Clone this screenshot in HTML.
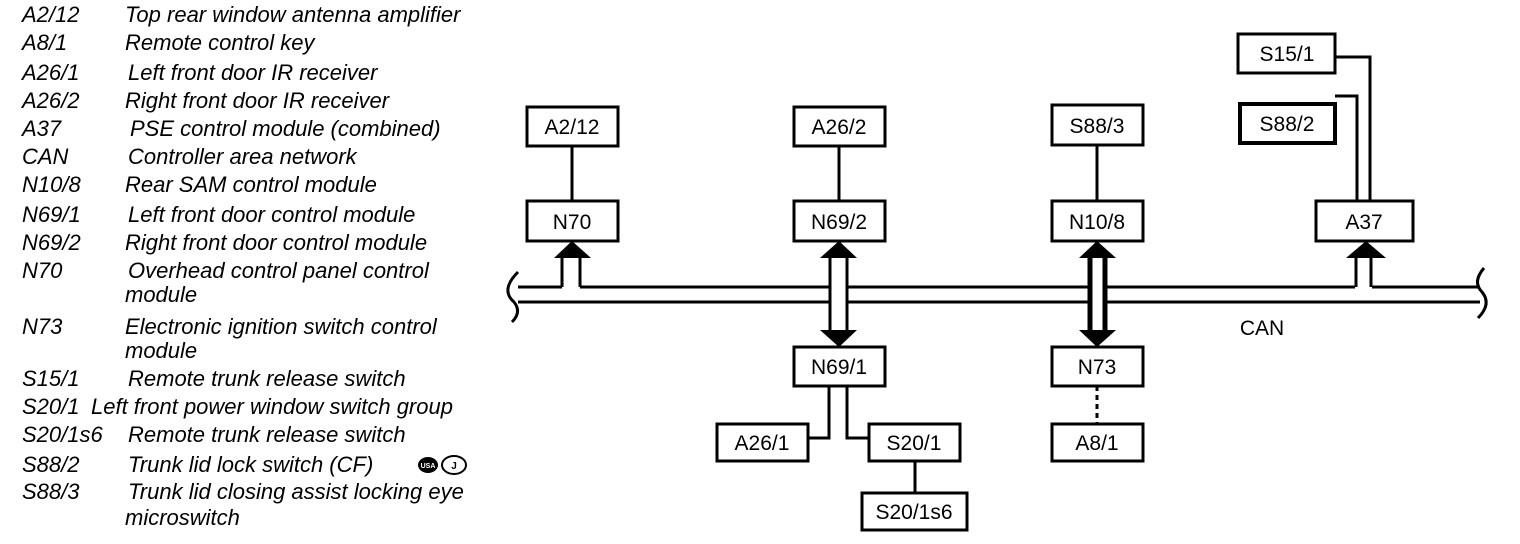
<!DOCTYPE html>
<html><head><style>body{margin:0;background:#fff}svg{display:block}
.t{font-family:"Liberation Sans",sans-serif;font-size:22px;font-style:italic;fill:#000}
.b{font-family:"Liberation Sans",sans-serif;font-size:21px;fill:#000;text-anchor:middle}
</style></head><body>
<svg width="1520" height="544" viewBox="0 0 1520 544" xmlns="http://www.w3.org/2000/svg">
<g class="t">
<text x="22" y="22">A2/12</text><text x="125" y="22">Top rear window antenna amplifier</text>
<text x="22" y="50">A8/1</text><text x="125" y="50">Remote control key</text>
<text x="22" y="80">A26/1</text><text x="128" y="80">Left front door IR receiver</text>
<text x="22" y="108">A26/2</text><text x="125" y="108">Right front door IR receiver</text>
<text x="22" y="136">A37</text><text x="130" y="136">PSE control module (combined)</text>
<text x="22" y="164">CAN</text><text x="128" y="164">Controller area network</text>
<text x="22" y="192">N10/8</text><text x="125" y="192">Rear SAM control module</text>
<text x="22" y="222">N69/1</text><text x="128" y="222">Left front door control module</text>
<text x="22" y="250">N69/2</text><text x="125" y="250">Right front door control module</text>
<text x="22" y="278">N70</text><text x="128" y="278">Overhead control panel control</text>
<text x="125" y="302">module</text>
<text x="22" y="334">N73</text><text x="125" y="334">Electronic ignition switch control</text>
<text x="125" y="358">module</text>
<text x="22" y="386">S15/1</text><text x="128" y="386">Remote trunk release switch</text>
<text x="22" y="414">S20/1</text><text x="91" y="414">Left front power window switch group</text>
<text x="22" y="442">S20/1s6</text><text x="128" y="442">Remote trunk release switch</text>
<text x="22" y="472">S88/2</text><text x="128" y="472">Trunk lid lock switch (CF)</text>
<text x="22" y="499">S88/3</text><text x="128" y="499">Trunk lid closing assist locking eye</text>
<text x="125" y="525">microswitch</text>
</g>
<ellipse cx="428" cy="465" rx="10" ry="8" fill="#000"/>
<text x="428" y="468" font-family="Liberation Sans" font-size="7" font-weight="bold" fill="#fff" text-anchor="middle">USA</text>
<ellipse cx="454" cy="465" rx="12" ry="9" fill="none" stroke="#000" stroke-width="2"/>
<text x="454" y="469" font-family="Liberation Sans" font-size="10" font-weight="bold" text-anchor="middle">J</text>

<g stroke="#000" stroke-width="3" fill="none">
<path d="M518 287 H562 M580 287 H830 M847 287 H1090 M1105 287 H1355 M1372 287 H1480"/>
<path d="M518 302 H830 M847 302 H1090 M1105 302 H1480"/>
<path d="M518 272 Q500 290 514 302 Q522 312 512 322"/>
<path d="M1484 268 Q1472 282 1482 292 Q1492 304 1478 318"/>
<path d="M562 258 V287 M580 258 V287"/>
<path d="M1356 258 V287 M1371 258 V287"/>
<path d="M830 258 V330 M847 258 V330"/>
<path d="M1090 258 V330 M1105 258 V330" stroke-width="5"/>
<rect x="527" y="107" width="91" height="39"/>
<rect x="527" y="201" width="91" height="40"/>
<rect x="794" y="107" width="91" height="39"/>
<rect x="794" y="201" width="91" height="40"/>
<rect x="1052" y="105" width="91" height="40"/>
<rect x="1052" y="201" width="91" height="40"/>
<rect x="1238" y="34" width="97" height="39"/>
<rect x="1240" y="104" width="95" height="39" stroke-width="4"/>
<rect x="1316" y="201" width="97" height="40"/>
<rect x="794" y="347" width="91" height="39"/>
<rect x="1052" y="347" width="91" height="39"/>
<rect x="1052" y="424" width="91" height="37"/>
<rect x="717" y="424" width="91" height="37"/>
<rect x="869" y="424" width="91" height="37"/>
<rect x="862" y="493" width="105" height="37"/>
<path d="M572 146 V201 M839 146 V201 M1097 145 V201"/>
<path d="M1336 57 H1370 V201 M1335 96 H1357 V201"/>
<path d="M829 386 V438 H808 M847 386 V438 H869 M915 461 V493"/>
<path d="M1097 386 V424" stroke-dasharray="5,4"/>
</g>
<g fill="#000">
<polygon points="554,258 591,258 572,241"/>
<polygon points="820,258 857,258 839,241"/>
<polygon points="1079,258 1116,258 1097,241"/>
<polygon points="1346,258 1386,258 1366,241"/>
<polygon points="820,330 857,330 839,347"/>
<polygon points="1079,330 1116,330 1097,347"/>
</g>
<g class="b">
<text x="572" y="134">A2/12</text><text x="572" y="229">N70</text>
<text x="839" y="134">A26/2</text><text x="839" y="229">N69/2</text>
<text x="1097" y="133">S88/3</text><text x="1097" y="229">N10/8</text>
<text x="1287" y="61">S15/1</text><text x="1287" y="131">S88/2</text>
<text x="1364" y="229">A37</text>
<text x="839" y="374">N69/1</text><text x="1097" y="374">N73</text>
<text x="1097" y="450">A8/1</text><text x="762" y="450">A26/1</text>
<text x="914" y="450">S20/1</text><text x="914" y="519">S20/1s6</text>
<text x="1262" y="335">CAN</text>
</g>
</svg>
</body></html>
